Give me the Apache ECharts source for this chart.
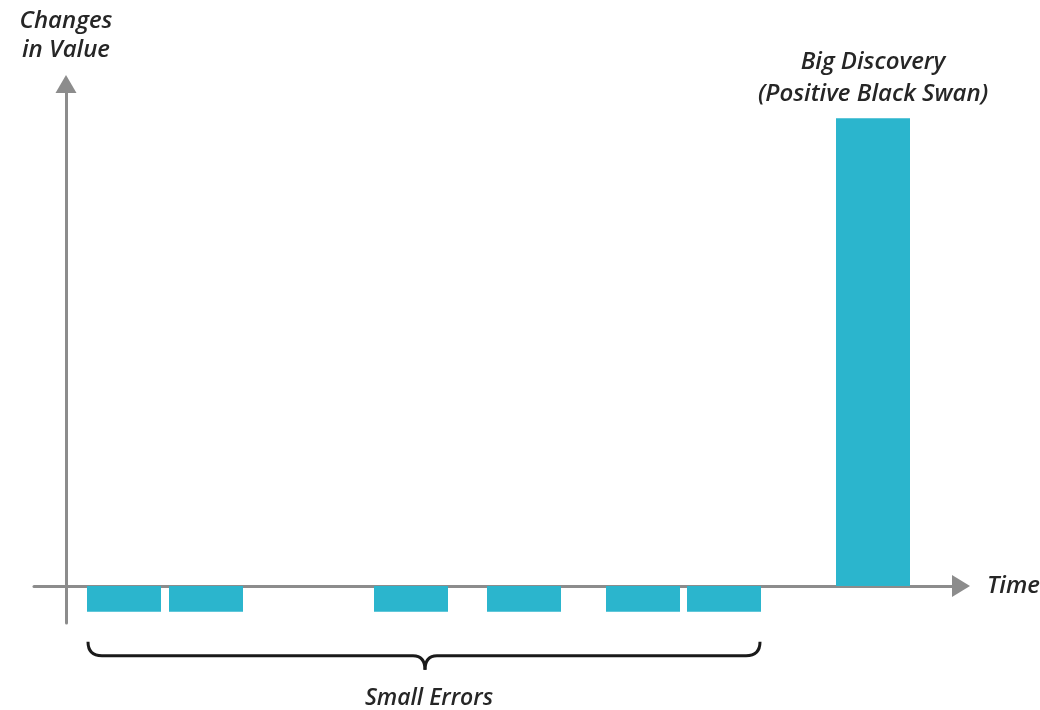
<!DOCTYPE html>
<html>
<head>
<meta charset="utf-8">
<script src="https://cdn.jsdelivr.net/npm/echarts@6/dist/echarts.min.js"></script>
<style>
  html, body { margin: 0; padding: 0; background: #fff; }
  #chart { width: 1040px; height: 710px; }
</style>
</head>
<body>
<div id="chart"></div>
<script>
// time positions (bar centres) and value changes
const smallTimes = [5.8, 14.0, 34.5, 45.8, 57.7, 65.8];
const smallValues = [-0.55, -0.55, -0.55, -0.55, -0.55, -0.55];
const bigTimes = [80.7];
const bigValues = [10];
const bigLabel = "Big Discovery\n(Positive Black Swan)";
const braceLabel = "Small Errors";

const font = "'Open Sans', 'DejaVu Sans', sans-serif";
const axisColor = "#8c8c8c";
const barColor = "#2bb5cd";
const textColor = "#262626";

const chart = echarts.init(document.getElementById("chart"));

const data = smallTimes.map((t, i) => [t, smallValues[i]]);
bigTimes.forEach((t, i) => {
  data.push({
    value: [t, bigValues[i]],
    label: {
      show: true,
      position: "top",
      distance: 8,
      formatter: bigLabel,
      fontFamily: font,
      fontStyle: "italic",
      fontWeight: 600,
      fontSize: 24,
      lineHeight: 32,
      color: textColor,
    },
  });
});

const option = {
  animation: false,
  grid: { left: 34, right: 79, top: 84, bottom: 87, containLabel: false, outerBoundsMode: "none" },
  xAxis: {
    type: "value",
    min: -3.2,
    max: 89.5,
    name: "Time",
    nameLocation: "end",
    nameGap: 26,
    nameTextStyle: {
      fontFamily: font,
      fontStyle: "italic",
      fontWeight: 600,
      fontSize: 24,
      color: textColor,
    },
    axisLine: {
      onZero: true,
      symbol: ["none", "triangle"],
      symbolSize: [22, 18],
      lineStyle: { color: axisColor, width: 3 },
    },
    axisTick: { show: false },
    axisLabel: { show: false },
    splitLine: { show: false },
  },
  yAxis: {
    type: "value",
    min: -0.79,
    max: 10.73,
    name: "Changes\nin Value",
    nameLocation: "end",
    nameGap: 19,
    nameTextStyle: {
      fontFamily: font,
      fontStyle: "italic",
      fontWeight: 600,
      fontSize: 24,
      lineHeight: 29,
      color: textColor,
    },
    axisLine: {
      onZero: true,
      symbol: ["none", "triangle"],
      symbolSize: [21, 18],
      lineStyle: { color: axisColor, width: 3 },
    },
    axisTick: { show: false },
    axisLabel: { show: false },
    splitLine: { show: false },
  },
  series: [
    {
      type: "bar",
      data: data,
      barWidth: 74,
      itemStyle: { color: barColor },
      z: 1,
    },
  ],
};
chart.setOption(option);

// brace under the small errors
const first = chart.convertToPixel({ gridIndex: 0 }, [smallTimes[0], smallValues[0]]);
const last = chart.convertToPixel({ gridIndex: 0 }, [smallTimes[smallTimes.length - 1], smallValues[0]]);
const xl = first[0] - 37 + 1;
const xr = last[0] + 37 - 1;
const xm = (xl + xr) / 2 + 1;
const braceTop = first[1] + 30;
const braceMid = braceTop + 14;
const braceTip = braceMid + 14;
const braceStyle = { fill: null, stroke: "#1a1a1a", lineWidth: 3 };

function curve(x1, y1, x2, y2, cx, cy) {
  return { type: "bezierCurve", shape: { x1, y1, x2, y2, cpx1: cx, cpy1: cy }, style: braceStyle };
}
function seg(x1, y1, x2, y2) {
  return { type: "line", shape: { x1, y1, x2, y2 }, style: braceStyle };
}

chart.setOption({
  graphic: [
    curve(xl, braceTop, xl + 14, braceMid, xl, braceMid),
    seg(xl + 14, braceMid, xm - 12, braceMid),
    curve(xm - 12, braceMid, xm, braceTip, xm, braceMid),
    curve(xm, braceTip, xm + 12, braceMid, xm, braceMid),
    seg(xm + 12, braceMid, xr - 14, braceMid),
    curve(xr - 14, braceMid, xr, braceTop, xr, braceMid),
    {
      type: "text",
      x: xm + 4,
      y: 698,
      style: {
        text: braceLabel,
        fontFamily: font,
        fontStyle: "italic",
        fontWeight: 600,
        fontSize: 23,
        fill: textColor,
        textAlign: "center",
        textVerticalAlign: "middle",
      },
    },
  ],
});

window.addEventListener("resize", () => chart.resize());
</script>
</body>
</html>
